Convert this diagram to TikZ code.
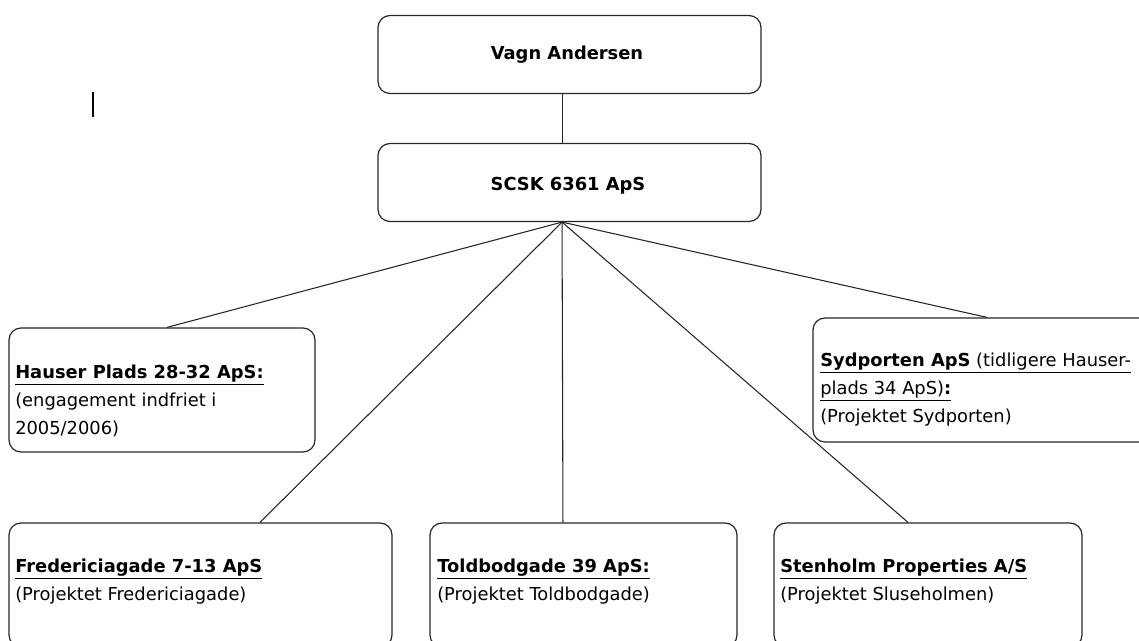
\documentclass[tikz,border=0pt]{standalone}
\usepackage{fontspec}
\setmainfont{DejaVu Sans}
\usetikzlibrary{positioning}

\begin{document}
\begin{tikzpicture}[x=0.75pt,y=-0.75pt,
  box/.style={draw=black!85,line width=0.9pt,rounded corners=9pt,inner sep=0pt},
  topbox/.style={box,minimum width=287.25pt,minimum height=58.5pt},
  subbox/.style={box,minimum height=93pt},
  txt/.style={inner sep=0pt,align=left,anchor=west,font=\fontsize{13.4}{21}\selectfont},
  link/.style={draw=black!85,line width=0.8pt}]
\useasboundingbox (0,0) rectangle (1139,641);
\clip (0,0) rectangle (1139,641);
% owner and holding
\node[topbox] (vagn) at (569.5,54.5) {};
\node[txt,anchor=center] (vagnT) at (567,55) {\textbf{Vagn Andersen}};
\node[topbox] (scsk) at (569.5,182.5) {};
\node[txt,anchor=center] (scskT) at (568,186) {\textbf{SCSK 6361 ApS}};
% subsidiaries
\node[subbox,minimum width=229.5pt] (hauser) at (162,390) {};
\node[txt] (hauserT) at (15,401) {\underline{\textbf{Hauser Plads 28-32 ApS:}}\\(engagement indfriet i\\2005/2006)};
\node[subbox,minimum width=264pt] (syd) at (989,380) {};
\node[txt] (sydT) at (820,390) {\underline{\textbf{Sydporten ApS} (tidligere Hauser-}\\\underline{plads 34 ApS)\textbf{:}}\\(Projektet Sydporten)};
\node[subbox,minimum width=287.25pt] (fred) at (200.5,585) {};
\node[txt] (fredT) at (15,582) {\underline{\textbf{Fredericiagade 7-13 ApS}}\\(Projektet Fredericiagade)};
\node[subbox,minimum width=230.25pt] (told) at (583.5,585) {};
\node[txt] (toldT) at (437,582) {\underline{\textbf{Toldbodgade 39 ApS:}}\\(Projektet Toldbodgade)};
\node[subbox,minimum width=231pt] (sten) at (928,585) {};
\node[txt] (stenT) at (780,582) {\underline{\textbf{Stenholm Properties A/S}}\\(Projektet Sluseholmen)};
% connectors
\coordinate (fan) at ([xshift=-5.6pt]scsk.south);
\draw[link] ([xshift=-5.6pt]vagn.south) -- ([xshift=-5.6pt]scsk.north);
\draw[link] (fan) -- ([xshift=3.75pt]hauser.north);
\draw[link] (fan) -- ([xshift=44.6pt]fred.north);
\draw[link] (fan) -- ([xshift=-15.4pt]told.north);
\draw[link] (fan) -- ([xshift=-15pt]sten.north);
\draw[link] (fan) -- ([xshift=-1.5pt]syd.north);
% text cursor
\draw[line width=1.1pt] (93,92) -- (93,117);
\end{tikzpicture}
\end{document}
